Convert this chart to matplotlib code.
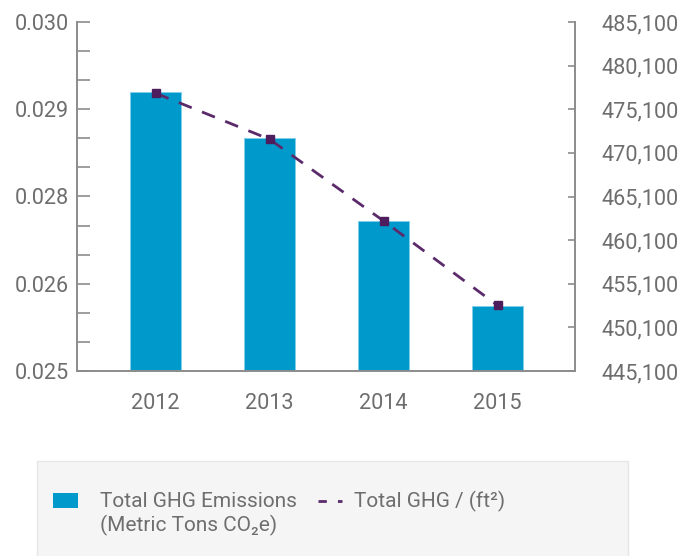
import numpy as np
import matplotlib
matplotlib.use('Agg')
import matplotlib.pyplot as plt
from matplotlib.patches import Rectangle
from matplotlib.lines import Line2D
from matplotlib.ticker import FixedLocator, MultipleLocator, FuncFormatter

plt.rcParams['font.family'] = ['Roboto', 'DejaVu Sans']

# data
years = ['2012', '2013', '2014', '2015']
total_ghg = [477100, 471800, 462300, 452600]          # metric tons CO2e (right axis)
ghg_per_ft2 = [0.02898, 0.02832, 0.02715, 0.02594]    # intensity (left axis)

left_ticks = np.linspace(0.025, 0.030, 5)
left_labels = ['0.025', '0.026', '0.028', '0.029', '0.030']
right_ticks = np.arange(445100, 485101, 5000)

bar_color = '#0099CB'
line_color = '#5B2A6B'
axis_color = '#8c8c8c'
text_color = '#6e6e6e'
fs = 15.6
leg_fs = 15

W, H = 683, 556
fig = plt.figure(figsize=(W / 100, H / 100), dpi=100)

# axes box in pixels: x 77..575, y 22..371
ax1 = fig.add_axes([77 / W, (H - 371) / H, (575 - 77) / W, (371 - 22) / H])
x = np.arange(len(years))
ax1.bar(x, total_ghg, width=0.45, color=bar_color, edgecolor='#7fd0ea', linewidth=0.6, zorder=2)
ax1.set_ylim(445100, 485100)
ax1.set_xlim(-0.69, 3.68)
ax1.set_xticks(x)
ax1.set_xticklabels(years)
ax1.tick_params(axis='x', length=0, labelsize=fs, labelcolor=text_color, pad=16)

ax2 = ax1.twinx()
ax2.plot(x, ghg_per_ft2, color=line_color, linestyle=(0, (5, 4)), linewidth=2,
         marker='s', markersize=6, markerfacecolor='#4d1d5e', markeredgecolor='#4d1d5e')
ax2.set_ylim(0.025, 0.030)

# bars use the right-hand scale, the line the left-hand one
ax1.yaxis.tick_right()
ax1.yaxis.set_label_position('right')
ax1.yaxis.set_major_locator(FixedLocator(right_ticks))
ax1.yaxis.set_major_formatter(FuncFormatter(lambda v, p: f'{int(round(v)):,}'))
ax1.tick_params(axis='y', direction='in', length=5, width=1.2, color=axis_color,
                labelsize=fs, labelcolor=text_color, pad=19)

ax2.yaxis.tick_left()
ax2.yaxis.set_label_position('left')
ax2.yaxis.set_major_locator(FixedLocator(left_ticks))
ax2.set_yticklabels(left_labels)
ax2.yaxis.set_minor_locator(MultipleLocator(0.00125 / 3))
ax2.tick_params(axis='y', which='both', direction='in', length=9, width=1.2, color=axis_color,
                labelsize=fs, labelcolor=text_color, pad=6)

for a in (ax1, ax2):
    a.spines['top'].set_visible(False)
    for s in ('left', 'right', 'bottom'):
        a.spines[s].set_color(axis_color)
        a.spines[s].set_linewidth(1.2)

# legend panel, drawn in figure pixels
def px(xp, yp):
    return xp / W, (H - yp) / H

fig.patches.append(Rectangle(px(37, 560), (628 - 37) / W, (560 - 461) / H,
                             transform=fig.transFigure, facecolor='#f5f5f5',
                             edgecolor='#e6e6e6', linewidth=1, zorder=0))
fig.patches.append(Rectangle(px(53, 508), 25 / W, 15 / H, transform=fig.transFigure,
                             facecolor=bar_color, edgecolor='none'))
fig.lines.append(Line2D([318 / W, 342 / W], [px(0, 501)[1]] * 2, transform=fig.transFigure,
                        color=line_color, linestyle=(0, (3, 4)), linewidth=2))
fig.text(*px(100, 514), 'Total GHG Emissions\n(Metric Tons CO\u2082e)', fontsize=leg_fs,
         color=text_color, va='center', ha='left', linespacing=1.25)
fig.text(*px(354, 501), 'Total GHG / (ft\u00b2)', fontsize=leg_fs,
         color=text_color, va='center', ha='left')

fig.savefig('out.png', dpi=100)
